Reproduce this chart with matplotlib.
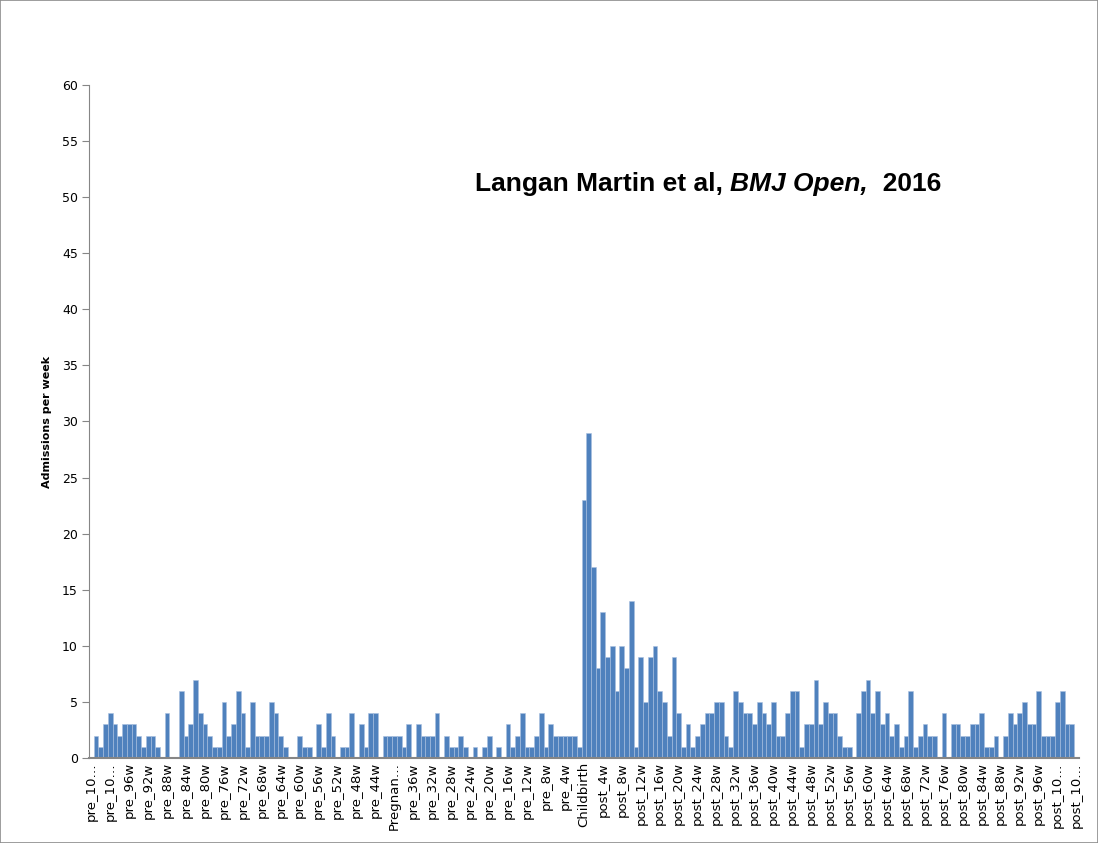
import matplotlib.pyplot as plt
import matplotlib.patches as mpatches
import numpy as np

# weekly admissions, pre_104w ... Childbirth ... post_104w (209 weeks)
admissions = [0,
    2, 1, 3, 4, 3, 2, 3, 3, 3, 2, 1, 2, 2, 1, 0, 4, 0, 0, 6, 2,
    3, 7, 4, 3, 2, 1, 1, 5, 2, 3, 6, 4, 1, 5, 2, 2, 2, 5, 4, 2,
    1, 0, 0, 2, 1, 1, 0, 3, 1, 4, 2, 0, 1, 1, 4, 0, 3, 1, 4, 4,
    0, 2, 2, 2, 2, 1, 3, 0, 3, 2, 2, 2, 4, 0, 2, 1, 1, 2, 1, 0,
    1, 0, 1, 2, 0, 1, 0, 3, 1, 2, 4, 1, 1, 2, 4, 1, 3, 2, 2, 2,
    2, 2, 1, 23, 29, 17, 8, 13, 9, 10, 6, 10, 8, 14, 1, 9, 5, 9, 10,
    6, 5, 2, 9, 4, 1, 3, 1, 2, 3, 4, 4, 5, 5, 2, 1, 6, 5, 4, 4,
    3, 5, 4, 3, 5, 2, 2, 4, 6, 6, 1, 3, 3, 7, 3, 5, 4, 4, 2, 1,
    1, 0, 4, 6, 7, 4, 6, 3, 4, 2, 3, 1, 2, 6, 1, 2, 3, 2, 2, 0,
    4, 0, 3, 3, 2, 2, 3, 3, 4, 1, 1, 2, 0, 2, 4, 3, 4, 5, 3, 3,
    6, 2, 2, 2, 5, 6, 3, 3, 0]

# category names (every 4th one is shown on the axis)
weeks = ([f'pre_{w}w' for w in range(104, 0, -1)] + ['Childbirth'] +
         [f'post_{w}w' for w in range(1, 105)])
weeks[64] = 'Pregnancy'

tick_labels = ['pre_10…', 'pre_10…', 'pre_96w', 'pre_92w', 'pre_88w', 'pre_84w',
               'pre_80w', 'pre_76w', 'pre_72w', 'pre_68w', 'pre_64w', 'pre_60w',
               'pre_56w', 'pre_52w', 'pre_48w', 'pre_44w', 'Pregnan…', 'pre_36w',
               'pre_32w', 'pre_28w', 'pre_24w', 'pre_20w', 'pre_16w', 'pre_12w',
               'pre_8w', 'pre_4w', 'Childbirth', 'post_4w', 'post_8w', 'post_12w',
               'post_16w', 'post_20w', 'post_24w', 'post_28w', 'post_32w',
               'post_36w', 'post_40w', 'post_44w', 'post_48w', 'post_52w',
               'post_56w', 'post_60w', 'post_64w', 'post_68w', 'post_72w',
               'post_76w', 'post_80w', 'post_84w', 'post_88w', 'post_92w',
               'post_96w', 'post_10…', 'post_10…']

fig = plt.figure(figsize=(10.98, 8.43), dpi=100)
fig.patches.append(mpatches.Rectangle((0, 0), 1, 1, transform=fig.transFigure,
                                      fill=False, edgecolor='#8c8c8c', linewidth=1.2))
ax = fig.add_axes([0.081, 0.1008, 0.9016, 0.7984])

x = np.arange(len(weeks))
ax.bar(x, admissions, width=1.0, color='#4f81bd', edgecolor='#a9c0e0', linewidth=0.4)

ax.set_xlim(-0.5, len(weeks) - 0.5)
ax.set_ylim(0, 60)
ax.set_yticks(np.arange(0, 61, 5))
ax.tick_params(axis='y', labelsize=9, length=5, color='#868686', pad=3)
ax.set_xticks(x[::4])
ax.set_xticklabels(tick_labels, rotation=90, fontsize=9.5)
ax.tick_params(axis='x', length=0, pad=3)
for s in ['top', 'right']:
    ax.spines[s].set_visible(False)
for s in ['left', 'bottom']:
    ax.spines[s].set_color('#868686')
ax.spines['bottom'].set_linewidth(1.5)

ax.set_ylabel('Admissions per week', fontsize=8, fontweight='bold', labelpad=7)

# citation, with the journal name in italics (pieces laid end to end on one baseline)
pieces = [('Langan Martin et al, ', 'normal'), ('BMJ Open,', 'italic'), ('  2016', 'normal')]
fig.canvas.draw()
renderer = fig.canvas.get_renderer()
xpos, ypos = 0.390, 0.842
for txt, st in pieces:
    t = ax.text(xpos, ypos, txt, transform=ax.transAxes, fontsize=19,
                fontweight='bold', style=st, family='Liberation Sans', va='baseline')
    bb = t.get_window_extent(renderer=renderer)
    xpos = ax.transAxes.inverted().transform((bb.x1, bb.y0))[0]

fig.savefig('out.png', dpi=100)
